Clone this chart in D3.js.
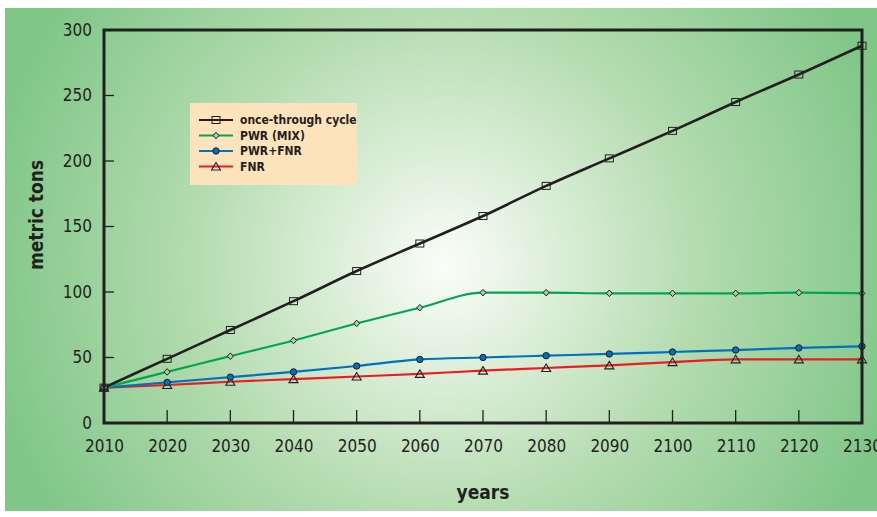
<!DOCTYPE html>
<html><head><meta charset="utf-8">
<script src="https://cdn.jsdelivr.net/npm/d3@7"></script>
<style>body{margin:0;background:#fff}svg{display:block}</style>
</head><body><svg id="c" width="877" height="517"></svg>
<script>
const years = [2010,2020,2030,2040,2050,2060,2070,2080,2090,2100,2110,2120,2130];
const onceThrough = [27,49,71,93,116,137,158,181,202,223,245,266,288];
const pwrMix = [27,39,51,63,76,88,99.5,99.5,99,99,99,99.5,99];
const pwrFnr = [27,31,35,39,43.5,48.5,50,51.4,52.7,54.2,55.7,57.3,58.5];
const fnr = [27,29,31.5,33.5,35.5,37.5,40,42,44,46.5,48.6,48.6,48.6];
const yTicks = [0,50,100,150,200,250,300];
const seriesNames = ["once-through cycle","PWR (MIX)","PWR+FNR","FNR"];
const seriesColors = ["#231f20","#00a651","#0072bc","#ed1c24"];
const seriesMarkers = ["square","diamond","circle","triangle"];
const seriesData = [onceThrough,pwrMix,pwrFnr,fnr];

const svg = d3.select("#c");
const defs = svg.append("defs");
const grad = defs.append("radialGradient").attr("id","bg").attr("gradientUnits","userSpaceOnUse")
  .attr("cx",445).attr("cy",265).attr("r",470);
grad.append("stop").attr("offset","0").attr("stop-color","#fbfdf8");
grad.append("stop").attr("offset","0.55").attr("stop-color","#b2dbae");
grad.append("stop").attr("offset","1").attr("stop-color","#7fc687");
svg.append("rect").attr("x",5).attr("y",8).attr("width",872).attr("height",503).attr("fill","url(#bg)");

const L=104,R=862,T=30,B=423;
const x = d3.scaleLinear().domain([2010,2130]).range([L,R]);
const y = d3.scaleLinear().domain([0,300]).range([B,T]);
const font = "'DejaVu Sans Condensed','DejaVu Sans',sans-serif";

const gx = svg.append("g").attr("transform",`translate(0,${B})`)
  .call(d3.axisBottom(x).tickValues(years).tickSize(0).tickPadding(14).tickFormat(d3.format("d")));
gx.select(".domain").remove();
gx.selectAll("text").attr("font-family",font).attr("font-size",17).attr("fill","#231f20").attr("dy","0.9em");
svg.append("g").selectAll("line").data(years.slice(1,-1)).join("line")
  .attr("x1",d=>x(d)).attr("x2",d=>x(d)).attr("y1",B).attr("y2",B-13)
  .attr("stroke","#231f20").attr("stroke-width",1.3);

const gy = svg.append("g").attr("transform",`translate(${L},0)`)
  .call(d3.axisLeft(y).tickValues(yTicks).tickSize(0).tickPadding(12));
gy.select(".domain").remove();
gy.selectAll("text").attr("font-family",font).attr("font-size",17).attr("fill","#231f20");
svg.append("g").selectAll("line").data(yTicks.slice(1,-1)).join("line")
  .attr("x1",L).attr("x2",L+10).attr("y1",d=>y(d)).attr("y2",d=>y(d))
  .attr("stroke","#231f20").attr("stroke-width",1.3);

const line = d3.line().x((d,i)=>x(years[i])).y(d=>y(d)).curve(d3.curveMonotoneX);
function marker(g, type, color){
  if(type==="square") g.append("rect").attr("x",-4).attr("y",-3.5).attr("width",8).attr("height",7)
     .attr("fill","none").attr("stroke","#231f20").attr("stroke-width",1);
  else if(type==="diamond") g.append("path").attr("d","M0,-3.3L3,0L0,3.3L-3,0Z")
     .attr("fill","#9fd3a6").attr("stroke","#231f20").attr("stroke-width",1);
  else if(type==="circle") g.append("circle").attr("r",3.2)
     .attr("fill",color).attr("stroke","#231f20").attr("stroke-width",1);
  else g.append("path").attr("d","M0,-4L4.5,3.5L-4.5,3.5Z")
     .attr("fill","none").attr("stroke","#231f20").attr("stroke-width",1.1);
}
for(let s=3;s>=0;s--){
  svg.append("path").datum(seriesData[s]).attr("d",line).attr("fill","none")
    .attr("stroke",seriesColors[s]).attr("stroke-width",s===0?2.6:2.2);
}
for(let s=3;s>=0;s--){
  seriesData[s].forEach((v,i)=>{
    const g = svg.append("g").attr("transform",`translate(${x(years[i])},${y(v)})`);
    marker(g, seriesMarkers[s], seriesColors[s]);
  });
}

svg.append("rect").attr("x",L).attr("y",T).attr("width",R-L).attr("height",B-T)
  .attr("fill","none").attr("stroke","#231f20").attr("stroke-width",3);

svg.append("rect").attr("x",190).attr("y",103).attr("width",167).attr("height",82).attr("fill","#fde3bc");
seriesNames.forEach((n,i)=>{
  const yy = 120 + i*15.5;
  svg.append("line").attr("x1",199).attr("x2",233).attr("y1",yy).attr("y2",yy)
    .attr("stroke",seriesColors[i]).attr("stroke-width",2.2);
  const g = svg.append("g").attr("transform",`translate(216,${yy})`);
  marker(g, seriesMarkers[i], seriesColors[i]);
  svg.append("text").attr("x",240).attr("y",yy).attr("dy","0.35em").text(n)
    .attr("font-family",font).attr("font-size",12).attr("font-weight","bold").attr("fill","#231f20");
});

svg.append("text").attr("x",(L+R)/2).attr("y",499).attr("text-anchor","middle").text("years")
  .attr("font-family",font).attr("font-size",19).attr("font-weight","bold").attr("fill","#231f20");
svg.append("text").attr("transform","translate(43,215) rotate(-90)").attr("text-anchor","middle").text("metric tons")
  .attr("font-family",font).attr("font-size",19).attr("font-weight","bold").attr("fill","#231f20");
</script></body></html>
